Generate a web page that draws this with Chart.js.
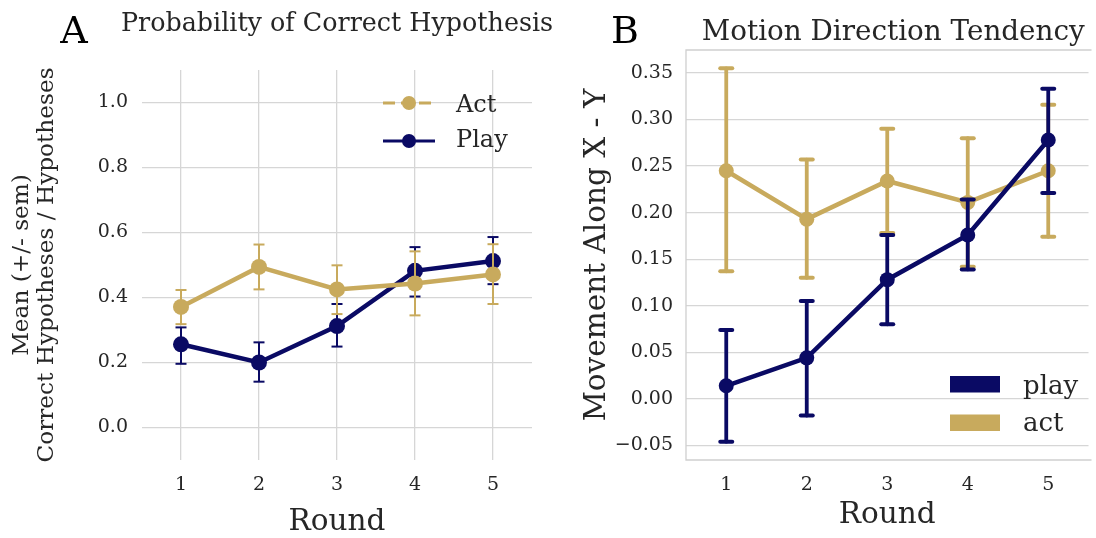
<!DOCTYPE html>
<html>
<head>
<meta charset="utf-8">
<title>Hypothesis and motion by round</title>
<script src="https://cdn.jsdelivr.net/npm/chart.js@4.4.1/dist/chart.umd.min.js"></script>
<style>
  html, body { margin: 0; padding: 0; background: #fff; }
  #wrap { position: relative; width: 1096px; height: 538px; overflow: hidden; }
  .panel { position: absolute; top: 0; }
  #panel-a { left: 0; }
  #panel-b { left: 560px; }
</style>
</head>
<body>
<div id="wrap">
  <div class="panel" id="panel-a"><canvas id="hyp-chart" width="560" height="538"></canvas></div>
  <div class="panel" id="panel-b"><canvas id="motion-chart" width="536" height="538"></canvas></div>
</div>
<script>
// ---- Data ----
const rounds = ['1', '2', '3', '4', '5'];

// A: probability of correct hypothesis (mean, +/- sem)
const hypAct      = [0.371, 0.494, 0.425, 0.443, 0.471];
const hypActLow   = [0.318, 0.425, 0.349, 0.345, 0.380];
const hypActHigh  = [0.423, 0.563, 0.499, 0.542, 0.564];
const hypPlay     = [0.256, 0.200, 0.312, 0.482, 0.512];
const hypPlayLow  = [0.196, 0.141, 0.249, 0.403, 0.441];
const hypPlayHigh = [0.308, 0.262, 0.380, 0.555, 0.586];
const hypTicks    = [0, 0.2, 0.4, 0.6, 0.8, 1.0];

// B: motion direction tendency
const motionPlay     = [0.014, 0.044, 0.128, 0.176, 0.278];
const motionPlayLow  = [-0.046, -0.018, 0.080, 0.139, 0.221];
const motionPlayHigh = [0.074, 0.105, 0.176, 0.214, 0.333];
const motionAct      = [0.245, 0.193, 0.234, 0.211, 0.245];
const motionActLow   = [0.137, 0.130, 0.178, 0.142, 0.174];
const motionActHigh  = [0.355, 0.257, 0.290, 0.280, 0.316];
const motionTicks    = [-0.05, 0, 0.05, 0.10, 0.15, 0.20, 0.25, 0.30, 0.35];

// ---- Style ----
const cNavy = '#0a0a64';
const cGold = '#c8aa5d';
const cText = '#262626';
const cGrid = '#d6d6d6';
const serif = "'DejaVu Serif', 'Liberation Serif', serif";

// error bars are drawn under each dataset's line and markers
const errorBars = {
  id: 'errorBars',
  beforeDatasetDraw(chart, args) {
    const ds = chart.data.datasets[args.index];
    if (!ds.errLow) return;
    const y = chart.scales.y;
    const ctx = chart.ctx;
    const st = ds.errStyle;
    ctx.save();
    ctx.strokeStyle = ds.borderColor;
    ctx.lineCap = st.round ? 'round' : 'butt';
    args.meta.data.forEach((pt, i) => {
      const lo = y.getPixelForValue(ds.errLow[i]);
      const hi = y.getPixelForValue(ds.errHigh[i]);
      ctx.lineWidth = st.width;
      ctx.beginPath();
      ctx.moveTo(pt.x, lo);
      ctx.lineTo(pt.x, hi);
      ctx.stroke();
      ctx.lineWidth = st.capWidth;
      [lo, hi].forEach(py => {
        ctx.beginPath();
        ctx.moveTo(pt.x - st.cap, py);
        ctx.lineTo(pt.x + st.cap, py);
        ctx.stroke();
      });
    });
    ctx.restore();
  }
};

// panel letter, centred title, optional frame and inline legend
const panelDecor = {
  id: 'panelDecor',
  afterDraw(chart, args, opts) {
    const ctx = chart.ctx;
    const area = chart.chartArea;
    ctx.save();
    ctx.fillStyle = '#000';
    ctx.textAlign = 'center';
    ctx.textBaseline = 'alphabetic';
    ctx.font = `38px ${serif}`;
    ctx.fillText(opts.letter, opts.letterX, 43);
    ctx.fillStyle = cText;
    ctx.font = `${opts.titleSize}px ${serif}`;
    ctx.fillText(opts.title, (area.left + area.right) / 2 + (opts.titleShift || 0), opts.titleY);

    if (opts.frame) {
      ctx.strokeStyle = '#cfcfcf';
      ctx.lineWidth = 1.3;
      ctx.beginPath();
      ctx.moveTo(area.right + 3, area.top);
      ctx.lineTo(area.left, area.top);
      ctx.lineTo(area.left, area.bottom);
      ctx.lineTo(area.right + 3, area.bottom);
      ctx.stroke();
    }
    if (opts.legend) opts.legend(ctx, chart);
    ctx.restore();
  }
};

function lineLegend(ctx, chart) {
  const [act, play] = chart.data.datasets;
  const rows = [
    { ds: act, y: 103, dash: [12, 6], textY: 112 },
    { ds: play, y: 141, dash: [], textY: 147 }
  ];
  rows.forEach(r => {
    ctx.strokeStyle = r.ds.borderColor;
    ctx.fillStyle = r.ds.borderColor;
    ctx.lineWidth = 3;
    ctx.setLineDash(r.dash);
    ctx.beginPath();
    ctx.moveTo(383, r.y);
    ctx.lineTo(435, r.y);
    ctx.stroke();
    ctx.setLineDash([]);
    ctx.beginPath();
    ctx.arc(409, r.y, 7, 0, Math.PI * 2);
    ctx.fill();
    ctx.fillStyle = cText;
    ctx.font = `24px ${serif}`;
    ctx.textAlign = 'left';
    ctx.fillText(r.ds.label, 456, r.textY);
  });
}

function boxLegend(ctx, chart) {
  const [play, act] = chart.data.datasets;
  [[play, 376, 394], [act, 414.5, 431]].forEach(([ds, boxY, textY]) => {
    ctx.fillStyle = ds.borderColor;
    ctx.fillRect(390, boxY, 50, 16.5);
    ctx.fillStyle = cText;
    ctx.font = `26px ${serif}`;
    ctx.textAlign = 'left';
    ctx.fillText(ds.label, 463, textY);
  });
}

function series(label, values, low, high, color, err, pointRadius) {
  return {
    label: label,
    data: values,
    errLow: low,
    errHigh: high,
    errStyle: err,
    borderColor: color,
    backgroundColor: color,
    borderWidth: 4.5,
    pointRadius: pointRadius,
    pointBorderWidth: 0,
    pointBackgroundColor: color,
    tension: 0
  };
}

const tickFont = { family: serif, size: 19 };
const axisTitleFont = { family: serif, size: 29.5, lineHeight: 1 };

// ---- Panel A ----
const thinErr = { width: 2, cap: 5.5, capWidth: 2, round: false };
new Chart(document.getElementById('hyp-chart'), {
  type: 'line',
  data: {
    labels: rounds,
    datasets: [
      series('Act', hypAct, hypActLow, hypActHigh, cGold, thinErr, 8),
      series('Play', hypPlay, hypPlayLow, hypPlayHigh, cNavy, thinErr, 8)
    ]
  },
  options: {
    responsive: false,
    animation: false,
    layout: { padding: { left: 0, top: 70, right: 28, bottom: 0 } },
    plugins: {
      legend: { display: false },
      tooltip: { enabled: false },
      panelDecor: {
        letter: 'A', letterX: 74,
        title: 'Probability of Correct Hypothesis', titleSize: 25.4, titleY: 31,
        frame: false, legend: lineLegend
      }
    },
    scales: {
      x: {
        type: 'category',
        offset: true,
        grid: { offset: false, color: cGrid, lineWidth: 1.3, drawTicks: false },
        border: { display: false },
        ticks: { font: tickFont, color: cText, padding: 14 },
        title: { display: true, text: 'Round', font: axisTitleFont, color: cText, padding: { top: 0, bottom: 1 } },
        afterFit: s => { s.height = 78; }
      },
      y: {
        min: -0.1,
        max: 1.1,
        afterBuildTicks: s => { s.ticks = hypTicks.map(v => ({ value: v })); },
        grid: { color: cGrid, lineWidth: 1.3, drawTicks: false },
        border: { display: false },
        ticks: { font: tickFont, color: cText, padding: 14, callback: v => v.toFixed(1) },
        title: {
          display: true,
          text: ['Mean (+/- sem)', 'Correct Hypotheses / Hypotheses'],
          font: { family: serif, size: 23.2, lineHeight: 1.09 },
          color: cText,
          padding: { top: 9.5, bottom: 0 }
        },
        afterFit: s => { s.width = 142; }
      }
    }
  },
  plugins: [errorBars, panelDecor]
});

// ---- Panel B ----
const thickErr = { width: 3.8, cap: 6, capWidth: 4, round: true };
new Chart(document.getElementById('motion-chart'), {
  type: 'line',
  data: {
    labels: rounds,
    datasets: [
      series('play', motionPlay, motionPlayLow, motionPlayHigh, cNavy, thickErr, 7.5),
      series('act', motionAct, motionActLow, motionActHigh, cGold, thickErr, 7.5)
    ]
  },
  options: {
    responsive: false,
    animation: false,
    layout: { padding: { left: 0, top: 50, right: 3, bottom: 0 } },
    plugins: {
      legend: { display: false },
      tooltip: { enabled: false },
      panelDecor: {
        letter: 'B', letterX: 65,
        title: 'Motion Direction Tendency', titleSize: 27.8, titleY: 40, titleShift: 6,
        frame: true, legend: boxLegend
      }
    },
    scales: {
      x: {
        type: 'category',
        offset: true,
        grid: { display: false, drawTicks: false },
        border: { display: false },
        ticks: { font: tickFont, color: cText, padding: 14 },
        title: { display: true, text: 'Round', font: axisTitleFont, color: cText, padding: { top: 0, bottom: 8 } },
        afterFit: s => { s.height = 78; }
      },
      y: {
        min: -0.0657,
        max: 0.3747,
        afterBuildTicks: s => { s.ticks = motionTicks.map(v => ({ value: v })); },
        grid: { color: cGrid, lineWidth: 1.3, drawTicks: false },
        border: { display: false },
        ticks: {
          font: tickFont, color: cText, padding: 13,
          callback: v => (v < 0 ? '\u2212' + Math.abs(v).toFixed(2) : v.toFixed(2))
        },
        title: {
          display: true,
          text: 'Movement Along X - Y',
          font: { family: serif, size: 29.5, lineHeight: 1.2 },
          color: cText,
          padding: { top: 19.3, bottom: 0 }
        },
        afterFit: s => { s.width = 126; }
      }
    }
  },
  plugins: [errorBars, panelDecor]
});
</script>
</body>
</html>
